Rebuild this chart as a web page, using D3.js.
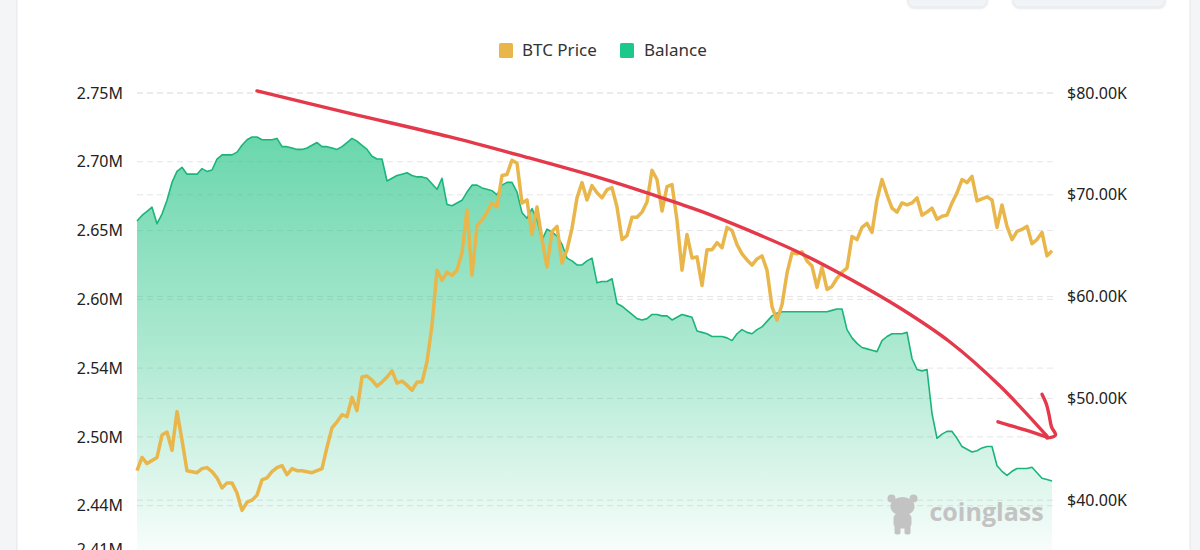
<!DOCTYPE html>
<html><head><meta charset="utf-8">
<script src="https://cdn.jsdelivr.net/npm/d3@7"></script>
<style>
html,body{margin:0;padding:0;background:#f4f5f7;}
svg{display:block;font-family:"Noto Sans",Inter,Roboto,sans-serif;}
</style></head>
<body>
<svg id="chart" width="1200" height="550"></svg>
<script>
// ---- data ----
const seriesNames = ["BTC Price", "Balance"];
// BTC price, thousands of USD
const price = [42.9,44.2,43.6,43.9,44.2,46.4,46.7,44.9,48.7,45.9,
42.9,42.8,42.7,43.1,43.2,42.8,42.2,41.2,41.7,41.7,
40.7,39.0,39.8,40.0,40.5,42.0,42.2,42.8,43.2,43.4,
42.5,43.1,42.9,42.9,42.8,42.7,42.9,43.1,45.2,47.1,
47.7,48.4,48.2,50.1,48.8,52.1,52.2,51.8,51.2,51.6,
52.1,52.7,51.5,51.7,51.3,50.8,51.6,51.6,53.6,57.2,
62.6,61.6,62.4,62.1,62.6,64.3,68.5,62.1,67.0,67.5,
68.3,69.2,68.8,71.9,72.0,73.4,73.1,69.2,69.5,66.1,
68.8,65.6,62.9,66.4,66.9,63.3,64.6,66.7,69.7,71.2,
69.5,70.9,70.2,69.7,70.5,70.7,68.8,65.6,66.0,67.8,
67.8,68.3,69.3,72.4,71.5,68.4,70.8,71.0,67.5,62.6,
66.1,63.8,63.9,61.1,64.6,64.6,65.3,64.8,66.8,66.5,
65.1,64.2,63.6,63.1,63.7,64.0,62.6,59.0,57.7,59.2,
62.3,64.3,64.2,64.4,63.5,63.0,60.9,62.9,60.7,61.0,
61.8,62.4,62.8,65.9,65.6,66.8,67.2,66.3,69.5,71.5,
70.0,68.7,68.3,69.2,69.0,69.2,69.7,68.0,68.3,68.7,
67.6,67.9,68.0,69.2,70.2,71.5,71.2,71.8,69.4,69.6,
69.8,69.5,66.8,69.0,66.9,65.6,66.4,66.6,66.9,65.2,
65.6,66.3,64.0,64.5];
// exchange balance, millions of BTC
const balance = [2.657,2.661,2.664,2.667,2.655,2.662,2.672,2.685,2.693,2.696,
2.691,2.691,2.691,2.695,2.693,2.694,2.702,2.705,2.705,2.705,
2.707,2.712,2.716,2.718,2.718,2.716,2.716,2.716,2.717,2.711,
2.711,2.710,2.709,2.709,2.710,2.712,2.714,2.711,2.711,2.710,
2.709,2.711,2.714,2.717,2.715,2.712,2.709,2.704,2.702,2.702,
2.686,2.688,2.690,2.691,2.692,2.690,2.689,2.689,2.688,2.684,
2.680,2.688,2.669,2.668,2.670,2.672,2.678,2.683,2.683,2.681,
2.680,2.679,2.676,2.683,2.685,2.685,2.678,2.663,2.659,2.666,
2.658,2.643,2.651,2.649,2.646,2.640,2.630,2.628,2.625,2.625,
2.628,2.630,2.612,2.613,2.613,2.615,2.597,2.595,2.592,2.589,
2.586,2.585,2.586,2.589,2.589,2.588,2.588,2.585,2.587,2.589,
2.588,2.587,2.577,2.576,2.575,2.573,2.573,2.573,2.572,2.570,
2.575,2.578,2.576,2.575,2.578,2.580,2.584,2.588,2.590,2.591,
2.591,2.591,2.591,2.591,2.591,2.591,2.591,2.591,2.591,2.592,
2.593,2.593,2.578,2.572,2.568,2.565,2.564,2.563,2.562,2.570,
2.573,2.575,2.575,2.575,2.576,2.557,2.549,2.548,2.549,2.517,
2.499,2.502,2.504,2.504,2.499,2.493,2.491,2.489,2.490,2.492,
2.493,2.493,2.479,2.475,2.472,2.475,2.477,2.477,2.477,2.478,
2.474,2.470,2.469,2.468];
const leftTickValues = [2.75, 2.70, 2.65, 2.60, 2.55, 2.50, 2.45, 2.418];
const leftTickLabels = ["2.75M","2.70M","2.65M","2.60M","2.54M","2.50M","2.44M","2.41M"];
const rightTickValues = [80, 70, 60, 50, 40];
const rightTickLabels = ["$80.00K","$70.00K","$60.00K","$50.00K","$40.00K"];
// hand-drawn red annotation arrow, in (sample index, price K) units
const arrowIdx   = [24, 42.6, 62.6, 77.6, 92.6, 102.6, 112.6, 122.6, 132.6, 142.6, 152.6, 162.6, 172.6, 182];
const arrowPrice = [80.2, 78.0, 75.69, 73.73, 71.66, 70.09, 68.42, 66.45, 64.29, 61.73, 58.88, 55.54, 51.21, 46.29];
const headAIdx   = [172.2, 177.6, 182];
const headAPrice = [47.7, 46.9, 46.2];
const headBIdx   = [181.0, 181.9, 182.4, 182.9, 183.7, 182];
const headBPrice = [50.4, 49.4, 48.4, 47.2, 46.4, 46.1];

// ---- layout ----
const W = 1200, H = 550;
const plot = {left: 137, right: 1052, top: 93, bottom: 602};
const colors = {price: "#e9b64b", balance: "#1bb47a", legendBal: "#1dc98a", arrow: "#e4384b"};

const svg = d3.select("#chart");
const defs = svg.append("defs");

// card background
svg.append("rect").attr("x", 17).attr("y", -10).attr("width", 1173).attr("height", H + 20)
  .attr("fill", "#fff").attr("stroke", "#e4e6ea");

// top-right buttons (partially visible)
const btnShadow = defs.append("filter").attr("id", "bs").attr("x", "-10%").attr("y", "-50%").attr("width", "120%").attr("height", "200%");
btnShadow.append("feDropShadow").attr("dx", 0).attr("dy", 1).attr("stdDeviation", 1.2).attr("flood-color", "#000").attr("flood-opacity", 0.12);
[[908, 79], [1013, 152]].forEach(([x, w]) => {
  svg.append("rect").attr("x", x).attr("y", -20).attr("width", w).attr("height", 27).attr("rx", 6)
    .attr("fill", "#f1f4f7").attr("stroke", "#e3e7ec").attr("filter", "url(#bs)");
});

const x = d3.scaleLinear().domain([0, price.length - 1]).range([plot.left, plot.right]);
const yL = d3.scaleLinear().domain([2.38, 2.75]).range([plot.bottom, plot.top]);
const yR = d3.scaleLinear().domain([30, 80]).range([plot.bottom, plot.top]);

// grid lines
const grid = svg.append("g");
leftTickValues.slice(0, 7).forEach(v => {
  grid.append("line").attr("x1", plot.left).attr("x2", 1055).attr("y1", yL(v)).attr("y2", yL(v))
    .attr("stroke", "#e5e5e5").attr("stroke-dasharray", "6,4");
});
rightTickValues.forEach(v => {
  grid.append("line").attr("x1", plot.left).attr("x2", 1055).attr("y1", yR(v)).attr("y2", yR(v))
    .attr("stroke", "#e5e5e5").attr("stroke-dasharray", "6,4");
});

// axes (labels only)
const axL = d3.axisLeft(yL).tickValues(leftTickValues).tickSize(0).tickPadding(0)
  .tickFormat((d, i) => leftTickLabels[i]);
svg.append("g").attr("transform", "translate(123,0)").call(axL)
  .call(g => g.select(".domain").remove())
  .selectAll("text").attr("font-size", 16).attr("fill", "#222").attr("font-family", "'Noto Sans',sans-serif");
const axR = d3.axisRight(yR).tickValues(rightTickValues).tickSize(0).tickPadding(0)
  .tickFormat((d, i) => rightTickLabels[i]);
svg.append("g").attr("transform", "translate(1067,0)").call(axR)
  .call(g => g.select(".domain").remove())
  .selectAll("text").attr("font-size", 16).attr("fill", "#222").attr("font-family", "'Noto Sans',sans-serif");

// balance area gradient
const grad = defs.append("linearGradient").attr("id", "balGrad")
  .attr("gradientUnits", "userSpaceOnUse").attr("x1", 0).attr("x2", 0).attr("y1", 130).attr("y2", 560);
grad.append("stop").attr("offset", "0%").attr("stop-color", "#2cc68a").attr("stop-opacity", 0.72);
grad.append("stop").attr("offset", "55%").attr("stop-color", "#2cc68a").attr("stop-opacity", 0.36);
grad.append("stop").attr("offset", "100%").attr("stop-color", "#2cc68a").attr("stop-opacity", 0.02);

const area = d3.area().x((d, i) => x(i)).y0(plot.bottom).y1(d => yL(d));
svg.append("path").datum(balance).attr("d", area).attr("fill", "url(#balGrad)");
const balLine = d3.line().x((d, i) => x(i)).y(d => yL(d));
svg.append("path").datum(balance).attr("d", balLine).attr("fill", "none")
  .attr("stroke", colors.balance).attr("stroke-width", 1.6).attr("stroke-linejoin", "round");

// watermark
const wm = svg.append("g").attr("fill", "#c3c3c3");
const mx = x(150.3), my = yR(39);
wm.append("ellipse").attr("cx", mx + 14).attr("cy", my - 4).attr("rx", 12).attr("ry", 9.5);
wm.append("circle").attr("cx", mx + 3).attr("cy", my - 12).attr("r", 4);
wm.append("circle").attr("cx", mx + 25).attr("cy", my - 12).attr("r", 4);
wm.append("rect").attr("x", mx + 5).attr("y", my + 3).attr("width", 18).attr("height", 15).attr("rx", 5);
wm.append("rect").attr("x", mx + 6).attr("y", my + 15).attr("width", 6).attr("height", 9).attr("rx", 2);
wm.append("rect").attr("x", mx + 16).attr("y", my + 15).attr("width", 6).attr("height", 9).attr("rx", 2);
wm.append("text").attr("x", mx + 41).attr("y", my + 11).attr("font-size", 25).attr("font-weight", 700)
  .attr("font-family", "'Open Sans','Noto Sans',sans-serif").attr("fill", "#c3c3c3").text("coinglass");

// price line
const priceLine = d3.line().x((d, i) => x(i)).y(d => yR(d));
svg.append("path").datum(price).attr("d", priceLine).attr("fill", "none")
  .attr("stroke", colors.price).attr("stroke-width", 3.5).attr("stroke-linejoin", "round");

// red hand-drawn arrow
const arrowLine = d3.line().x(d => x(d[0])).y(d => yR(d[1])).curve(d3.curveCatmullRom);
const redStyle = p => p.attr("fill", "none").attr("stroke", colors.arrow).attr("stroke-width", 3.4)
  .attr("stroke-linecap", "round").attr("stroke-linejoin", "round");
svg.append("path").datum(arrowIdx.map((v, i) => [v, arrowPrice[i]])).attr("d", arrowLine).call(redStyle);
svg.append("path").datum(headAIdx.map((v, i) => [v, headAPrice[i]])).attr("d", arrowLine).call(redStyle);
svg.append("path").datum(headBIdx.map((v, i) => [v, headBPrice[i]])).attr("d", arrowLine).call(redStyle);

// legend
const legend = svg.append("g");
const legItems = [{name: seriesNames[0], color: colors.price, x: 499, tx: 522},
                  {name: seriesNames[1], color: colors.legendBal, x: 620, tx: 644}];
legItems.forEach(it => {
  legend.append("rect").attr("x", it.x).attr("y", 43).attr("width", 14).attr("height", 15).attr("rx", 1.5).attr("fill", it.color);
  legend.append("text").attr("x", it.tx).attr("y", 50).attr("dy", "0.35em").attr("font-size", 17)
    .attr("fill", "#333").text(it.name);
});
</script>
</body></html>
